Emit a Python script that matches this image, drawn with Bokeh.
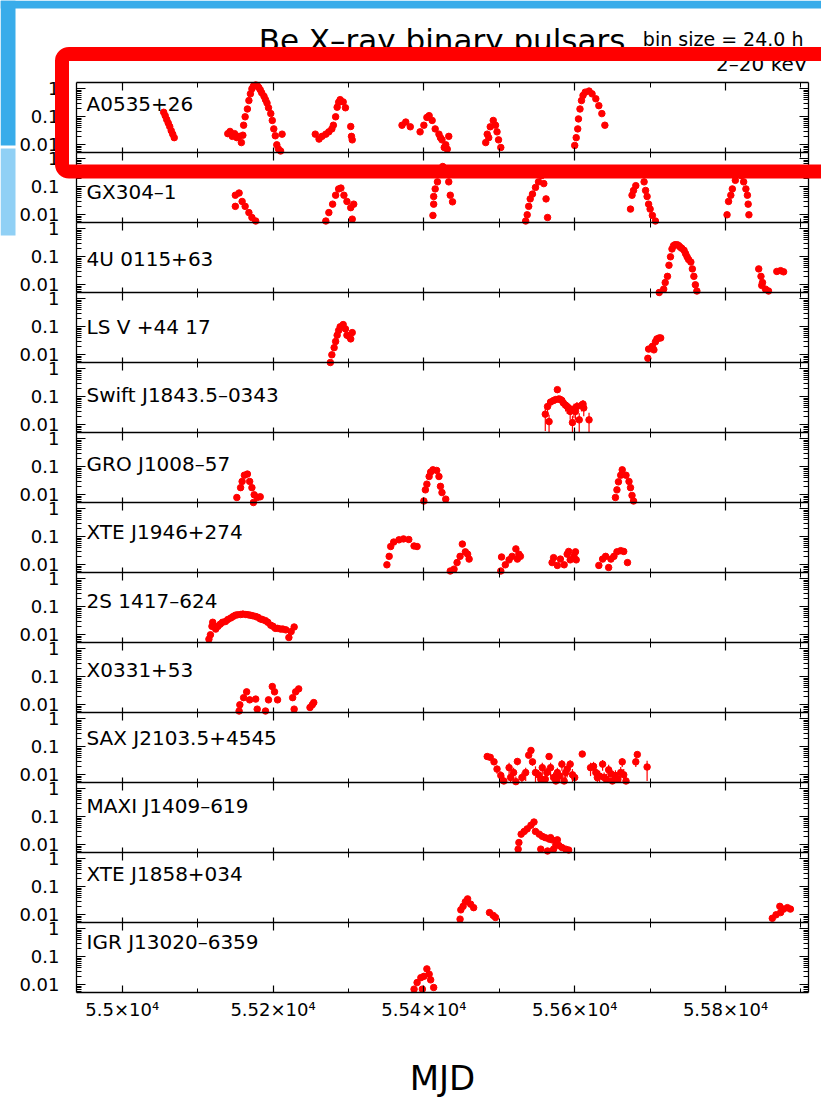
from bokeh.plotting import figure
from bokeh.models import (Range1d, LogScale, LinearScale, LogAxis, LinearAxis, FixedTicker,
                          CustomJSTickFormatter, Label, BoxAnnotation)
from bokeh.embed import file_html
from bokeh.resources import INLINE

# ---------------- data (MJD, flux) ----------------
a0535_mjd = [55055, 55057, 55059, 55061, 55063, 55065, 55067, 55069,
             55140, 55143, 55146, 55149, 55152, 55155, 55158, 55160,
             55161, 55163, 55166, 55168, 55170, 55172, 55174, 55177, 55179, 55181, 55183, 55185,
             55188, 55190, 55192, 55194, 55197, 55199, 55201, 55203, 55205, 55207, 55210, 55212,
             55256, 55261, 55265, 55270, 55274, 55278, 55280, 55283, 55285, 55287, 55289, 55293,
             55296, 55303, 55304, 55305,
             55371, 55376, 55382, 55395, 55400, 55404, 55407, 55411, 55415, 55420, 55422, 55424,
             55427, 55429, 55431, 55433,
             55482, 55484, 55486, 55488, 55492, 55495, 55497, 55499, 55502,
             55600, 55602, 55604, 55605, 55607, 55609, 55611, 55614, 55619, 55623, 55628, 55632,
             55636, 55640]
a0535_flux = [0.145, 0.11, 0.08, 0.06, 0.045, 0.032, 0.024, 0.018,
              0.025, 0.03, 0.02, 0.025, 0.018, 0.02, 0.012, 0.022,
              0.05, 0.1, 0.19, 0.38, 0.66, 1.0, 1.25, 1.37, 1.3, 1.12, 0.93, 0.72,
              0.54, 0.41, 0.31, 0.21, 0.13, 0.074, 0.037, 0.021, 0.01, 0.0072, 0.006, 0.024,
              0.024, 0.016, 0.02, 0.024, 0.029, 0.037, 0.05, 0.1, 0.22, 0.33, 0.41, 0.34,
              0.21, 0.045, 0.02, 0.015,
              0.05, 0.065, 0.044, 0.029, 0.05, 0.095, 0.11, 0.074, 0.037, 0.024, 0.018, 0.015,
              0.008, 0.01, 0.007, 0.02,
              0.012, 0.024, 0.018, 0.044, 0.074, 0.05, 0.029, 0.015, 0.008,
              0.0095, 0.018, 0.037, 0.084, 0.19, 0.38, 0.58, 0.76, 0.83, 0.66, 0.44, 0.25,
              0.13, 0.05]

gx304_mjd = [55150, 55150, 55155, 55159, 55163, 55168, 55172, 55177,
             55270, 55274, 55279, 55283, 55287, 55290, 55294, 55298, 55303, 55305, 55307,
             55412, 55413, 55413, 55415, 55418, 55421, 55425, 55429, 55433, 55435, 55438,
             55535, 55537, 55539, 55541, 55544, 55548, 55552, 55556, 55559, 55562, 55564,
             55674, 55676, 55678, 55681, 55685, 55689, 55692, 55694, 55696, 55698, 55700, 55703, 55707,
             55802, 55804, 55807, 55809, 55813, 55817, 55821, 55824, 55827, 55829, 55830, 55831]
gx304_flux = [0.05, 0.02, 0.06, 0.03, 0.02, 0.012, 0.008, 0.006,
              0.006, 0.012, 0.024, 0.05, 0.084, 0.09, 0.05, 0.03, 0.018, 0.007, 0.024,
              0.0095, 0.024, 0.045, 0.084, 0.15, 0.35, 0.53, 0.3, 0.15, 0.05, 0.029,
              0.006, 0.01, 0.02, 0.037, 0.055, 0.095, 0.15, 0.25, 0.13, 0.037, 0.008,
              0.016, 0.05, 0.074, 0.11, 0.3, 0.35, 0.15, 0.074, 0.045, 0.024, 0.016, 0.0095, 0.006,
              0.01, 0.03, 0.05, 0.084, 0.17, 0.3, 0.25, 0.15, 0.084, 0.05, 0.024, 0.01]

u0115_mjd = [55712, 55718, 55720, 55723, 55725, 55727, 55729, 55731, 55733, 55736, 55738, 55740,
             55742, 55745, 55747, 55749, 55751, 55754, 55756, 55758, 55760, 55762,
             55844, 55847, 55849, 55848, 55853, 55857, 55868, 55873, 55877]
u0115_flux = [0.0053, 0.007, 0.012, 0.02, 0.05, 0.1, 0.19, 0.25, 0.27, 0.27, 0.25, 0.22,
              0.2, 0.17, 0.13, 0.1, 0.08, 0.065, 0.037, 0.02, 0.01, 0.006,
              0.037, 0.02, 0.012, 0.0095, 0.007, 0.006, 0.03, 0.032, 0.029]

lsv_mjd = [55276, 55278, 55281, 55283, 55285, 55287, 55289, 55293, 55296, 55298, 55301, 55303, 55305,
           55697, 55698, 55703, 55705, 55707, 55709, 55712, 55714]
lsv_flux = [0.0053, 0.01, 0.018, 0.03, 0.05, 0.074, 0.1, 0.12, 0.084, 0.05, 0.045, 0.037, 0.062,
            0.0075, 0.016, 0.02, 0.015, 0.029, 0.037, 0.04, 0.04]

swift_mjd = [55561, 55564, 55566, 55568, 55572, 55575, 55577, 55579, 55581, 55583, 55585, 55588,
             55590, 55592, 55594, 55597, 55599, 55601, 55603, 55606, 55609, 55611, 55612, 55619]
swift_flux = [0.024, 0.045, 0.013, 0.065, 0.074, 0.08, 0.18, 0.084, 0.08, 0.074, 0.06, 0.05,
              0.045, 0.04, 0.03, 0.012, 0.037, 0.03, 0.045, 0.015, 0.05, 0.055, 0.04, 0.015]
swift_err = [0.018, 0.02, 0.01, 0.02, 0.015, 0.015, 0.04, 0.02, 0.02, 0.02, 0.02, 0.02,
             0.02, 0.015, 0.015, 0.009, 0.02, 0.015, 0.02, 0.011, 0.02, 0.02, 0.02, 0.012]

gro_mjd = [55152, 55157, 55159, 55162, 55166, 55169, 55172, 55174, 55175, 55179, 55183,
           55400, 55402, 55404, 55407, 55409, 55412, 55417, 55420, 55422, 55424, 55429,
           55654, 55656, 55658, 55661, 55663, 55668, 55672, 55674, 55676, 55678]
gro_flux = [0.008, 0.018, 0.03, 0.05, 0.055, 0.03, 0.018, 0.0053, 0.01, 0.008, 0.0085,
            0.006, 0.015, 0.024, 0.045, 0.065, 0.078, 0.074, 0.045, 0.02, 0.012, 0.007,
            0.008, 0.015, 0.029, 0.05, 0.078, 0.05, 0.03, 0.018, 0.0095, 0.006]

xte1946_mjd = [55351, 55354, 55356, 55360, 55367, 55373, 55380, 55387, 55391,
               55435, 55440, 55444, 55448, 55451, 55455, 55458, 55460,
               55502, 55503, 55508, 55513, 55517, 55522, 55524, 55526, 55528,
               55570, 55572, 55577, 55581, 55586, 55590, 55592, 55594, 55599, 55601, 55602,
               55632, 55637, 55641, 55645, 55648, 55652, 55656, 55661, 55665, 55670]
xte1946_flux = [0.01, 0.02, 0.045, 0.065, 0.078, 0.084, 0.08, 0.047, 0.045,
                0.006, 0.007, 0.012, 0.02, 0.055, 0.029, 0.024, 0.016,
                0.006, 0.019, 0.01, 0.015, 0.02, 0.037, 0.016, 0.024, 0.02,
                0.012, 0.018, 0.0095, 0.016, 0.01, 0.024, 0.03, 0.015, 0.02, 0.029, 0.015,
                0.0095, 0.016, 0.02, 0.008, 0.016, 0.02, 0.029, 0.032, 0.03, 0.012]

s1417_mjd = [55115, 55117, 55119, 55120, 55124, 55127, 55130, 55133, 55137, 55140, 55144, 55147,
             55150, 55153, 55157, 55160, 55164, 55167, 55170, 55173, 55177, 55180, 55183, 55186,
             55190, 55193, 55197, 55200, 55203, 55206, 55210, 55213, 55217, 55221, 55224, 55228]
s1417_flux = [0.007, 0.01, 0.02, 0.028, 0.016, 0.02, 0.024, 0.028, 0.03, 0.035, 0.04, 0.045,
              0.05, 0.052, 0.053, 0.055, 0.053, 0.052, 0.05, 0.048, 0.045, 0.042, 0.037, 0.035,
              0.032, 0.028, 0.022, 0.02, 0.017, 0.017, 0.016, 0.016, 0.015, 0.008, 0.013, 0.019]

x0331_mjd = [55155, 55156, 55161, 55165, 55169, 55177, 55179, 55190, 55194, 55199, 55202, 55206,
             55226, 55228, 55230, 55234, 55249, 55252, 55254]
x0331_flux = [0.006, 0.01, 0.018, 0.029, 0.015, 0.016, 0.007, 0.006, 0.015, 0.045, 0.029, 0.015,
              0.018, 0.007, 0.029, 0.037, 0.008, 0.01, 0.012]

sax_mjd = [55484, 55488, 55493, 55497, 55502, 55506, 55513, 55515, 55519, 55522, 55524, 55530,
           55535, 55539, 55542, 55544, 55548, 55552, 55555, 55557, 55561, 55563, 55566, 55568,
           55572, 55575, 55577, 55580, 55583, 55586, 55588, 55590, 55594, 55597, 55600, 55610,
           55621, 55625, 55628, 55630, 55633, 55637, 55639, 55642, 55645, 55648, 55650, 55654,
           55657, 55661, 55663, 55665, 55668, 55681, 55683, 55696]
sax_flux = [0.045, 0.042, 0.029, 0.016, 0.0095, 0.006, 0.018, 0.008, 0.012, 0.0057, 0.03, 0.008,
            0.012, 0.05, 0.074, 0.029, 0.012, 0.01, 0.007, 0.018, 0.007, 0.012, 0.045, 0.018,
            0.008, 0.006, 0.012, 0.009, 0.024, 0.006, 0.012, 0.016, 0.024, 0.01, 0.008, 0.055,
            0.018, 0.02, 0.012, 0.008, 0.009, 0.024, 0.008, 0.007, 0.015, 0.011, 0.006, 0.0095,
            0.007, 0.012, 0.029, 0.01, 0.006, 0.029, 0.053, 0.019]
sax_err = [0.004, 0.004, 0.005, 0.005, 0.004, 0.003, 0.009, 0.004, 0.006, 0.003, 0.008, 0.004,
           0.006, 0.008, 0.01, 0.008, 0.008, 0.005, 0.004, 0.009, 0.004, 0.006, 0.01, 0.009,
           0.004, 0.003, 0.006, 0.005, 0.01, 0.003, 0.006, 0.008, 0.009, 0.006, 0.004, 0.008,
           0.009, 0.009, 0.006, 0.004, 0.005, 0.01, 0.004, 0.004, 0.008, 0.006, 0.003, 0.005,
           0.004, 0.007, 0.01, 0.006, 0.003, 0.01, 0.01, 0.013]

maxi_mjd = [55525, 55526, 55529, 55533, 55537, 55542, 55546, 55548, 55553, 55555, 55557, 55561,
            55564, 55566, 55568, 55570, 55572, 55575, 55577, 55579, 55583, 55588, 55592]
maxi_flux = [0.007, 0.012, 0.024, 0.03, 0.037, 0.05, 0.065, 0.03, 0.024, 0.007, 0.02, 0.018,
             0.006, 0.016, 0.018, 0.015, 0.007, 0.01, 0.015, 0.0095, 0.008, 0.007, 0.0065]

xte1858_mjd = [55448, 55449, 55452, 55455, 55458, 55462, 55466, 55487, 55492, 55495,
               55862, 55867, 55872, 55873, 55877, 55882, 55886]
xte1858_flux = [0.007, 0.015, 0.02, 0.029, 0.037, 0.024, 0.018, 0.012, 0.0095, 0.008,
                0.0075, 0.01, 0.02, 0.012, 0.016, 0.018, 0.016]

igr_mjd = [55387, 55391, 55396, 55398, 55400, 55404, 55407, 55409, 55413]
igr_flux = [0.007, 0.012, 0.018, 0.007, 0.02, 0.037, 0.024, 0.015, 0.008]

source_names = ["A0535+26", "GX304–1", "4U 0115+63", "LS V +44 17", "Swift J1843.5–0343",
                "GRO J1008–57", "XTE J1946+274", "2S 1417–624", "X0331+53", "SAX J2103.5+4545",
                "MAXI J1409–619", "XTE J1858+034", "IGR J13020–6359"]
source_mjd = [a0535_mjd, gx304_mjd, u0115_mjd, lsv_mjd, swift_mjd, gro_mjd, xte1946_mjd,
              s1417_mjd, x0331_mjd, sax_mjd, maxi_mjd, xte1858_mjd, igr_mjd]
source_flux = [a0535_flux, gx304_flux, u0115_flux, lsv_flux, swift_flux, gro_flux, xte1946_flux,
               s1417_flux, x0331_flux, sax_flux, maxi_flux, xte1858_flux, igr_flux]
source_err = {4: swift_err, 9: sax_err}

x_ticks = [55000, 55200, 55400, 55600, 55800]
x_tick_labels = ["5.5×10⁴", "5.52×10⁴", "5.54×10⁴", "5.56×10⁴", "5.58×10⁴"]
x_minor = [55100, 55300, 55500, 55700, 55900]
y_ticks = [0.01, 0.1, 1]
y_minor = [0.006, 0.007, 0.008, 0.009, 0.02, 0.03, 0.04, 0.05, 0.06, 0.07, 0.08, 0.09,
           0.2, 0.3, 0.4, 0.5, 0.6, 0.7, 0.8, 0.9]

# ---------------- layout (screen pixels, origin top-left) ----------------
W, H = 821, 1097
FL, FR = 76, 808          # panel block left/right
FT = 82                   # top of first panel
PH = 70                   # panel height
NP = 13
FB = FT + NP * PH         # bottom of last panel
X0, X1 = 54939.4, 55910.0  # MJD at FL, FR
LOG_LO, LOG_HI = -2.275, 0.225
PXDEC = PH / (LOG_HI - LOG_LO)
label_y = [103, 191, 258, 326, 394, 463, 531, 600, 669, 737, 805, 873, 941]
FONT = "DejaVu Sans"
RED = "#ff0000"

mpp = (X1 - X0) / (FR - FL)
p = figure(width=W, height=H,
           x_range=Range1d(X0 - FL * mpp, X0 + (W - FL) * mpp),
           y_range=Range1d(H, 0),
           x_axis_type=None, y_axis_type=None, toolbar_location=None, output_backend="svg",
           min_border=0, min_border_left=0, min_border_right=0, min_border_top=0,
           min_border_bottom=0, outline_line_color=None,
           background_fill_color="white", border_fill_color="white")
p.grid.visible = False

p.extra_x_ranges = {"px": Range1d(0, W)}
p.extra_x_scales = {"px": LinearScale()}
yr, ys = {}, {}
for i in range(NP):
    top = FT + i * PH
    bot = top + PH
    yr[f"p{i}"] = Range1d(10 ** (LOG_LO - (H - bot) / PXDEC), 10 ** (LOG_HI + top / PXDEC))
    ys[f"p{i}"] = LogScale()
p.extra_y_ranges = yr
p.extra_y_scales = ys

# slide decorations
p.add_layout(BoxAnnotation(left=0, right=W, top=0, bottom=8, x_range_name="px",
                           fill_color="#38acea", fill_alpha=1, line_color=None, level="underlay"))
p.add_layout(BoxAnnotation(left=0, right=15, top=0, bottom=145, x_range_name="px",
                           fill_color="#38acea", fill_alpha=1, line_color=None, level="underlay"))
p.add_layout(BoxAnnotation(left=0, right=15, top=148, bottom=235, x_range_name="px",
                           fill_color="#90d0f5", fill_alpha=1, line_color=None, level="underlay"))

# data
floor = 10 ** LOG_LO
for i in range(NP):
    if i in source_err:
        err = source_err[i]
        lo = [max(f - e, floor) for f, e in zip(source_flux[i], err)]
        hi = [f + e for f, e in zip(source_flux[i], err)]
        p.segment(x0=source_mjd[i], y0=lo, x1=source_mjd[i], y1=hi, y_range_name=f"p{i}",
                  line_color=RED, line_width=1.2)
    p.scatter(source_mjd[i], source_flux[i], y_range_name=f"p{i}", size=6.5, color=RED)

# y axes per panel
yfmt = CustomJSTickFormatter(code="return tick.toString();")
ybounds = (10 ** LOG_LO, 10 ** LOG_HI)
for i in range(NP):
    la = LogAxis(y_range_name=f"p{i}", fixed_location=X0, bounds=ybounds,
                 ticker=FixedTicker(ticks=y_ticks, minor_ticks=y_minor), formatter=yfmt,
                 major_tick_in=9, major_tick_out=0, minor_tick_in=5, minor_tick_out=0,
                 major_label_standoff=17, major_label_text_font=FONT,
                 major_label_text_font_size="18px", major_label_text_color="black",
                 axis_line_color="black", axis_line_width=1.3, major_tick_line_width=1.2)
    p.add_layout(la, "left")
    ra = LogAxis(y_range_name=f"p{i}", fixed_location=X1, bounds=ybounds,
                 ticker=FixedTicker(ticks=y_ticks, minor_ticks=y_minor), formatter=yfmt,
                 major_tick_in=9, major_tick_out=0, minor_tick_in=5, minor_tick_out=0,
                 major_label_text_alpha=0, axis_line_color="black", axis_line_width=1.3,
                 major_tick_line_width=1.2)
    p.add_layout(ra, "right")

# x axes at every panel boundary
xfmt = CustomJSTickFormatter(args=dict(tv=x_ticks, tl=x_tick_labels),
                             code="const k = tv.indexOf(tick); return k < 0 ? '' : tl[k];")
xt = FixedTicker(ticks=x_ticks, minor_ticks=x_minor)
bottom = LinearAxis(fixed_location=FB, bounds=(X0, X1), ticker=xt, formatter=xfmt,
                    major_tick_in=7, major_tick_out=0, minor_tick_in=4, minor_tick_out=0,
                    major_label_standoff=6, major_label_text_font=FONT,
                    major_label_text_font_size="18px", major_label_text_color="black",
                    axis_line_color="black", axis_line_width=1.3, major_tick_line_width=1.2)
p.add_layout(bottom, "below")
for k in range(1, NP):
    ax = LinearAxis(fixed_location=FT + k * PH, bounds=(X0, X1), ticker=xt, formatter=xfmt,
                    major_tick_in=5, major_tick_out=8, minor_tick_in=4, minor_tick_out=5,
                    major_label_text_alpha=0, axis_line_color="black",
                    axis_line_width=1.3, major_tick_line_width=1.2)
    p.add_layout(ax, "below")
topax = LinearAxis(fixed_location=FT, bounds=(X0, X1), ticker=xt, formatter=xfmt,
                   major_tick_in=8, major_tick_out=0, minor_tick_in=5, minor_tick_out=0,
                   major_label_text_alpha=0, axis_line_color="black",
                   axis_line_width=1.3, major_tick_line_width=1.2)
p.add_layout(topax, "above")

# panel names
for i in range(NP):
    p.add_layout(Label(x=86, y=label_y[i], x_range_name="px", text=source_names[i],
                       text_baseline="middle", text_font=FONT, text_font_size="20px",
                       text_color="black"))

# titles
p.add_layout(Label(x=441.5, y=39, x_range_name="px", text="Be X–ray binary pulsars",
                   text_align="center", text_baseline="middle", text_font=FONT,
                   text_font_size="31px", text_color="black"))
p.add_layout(Label(x=803, y=38, x_range_name="px", text="bin size = 24.0 h",
                   text_align="right", text_baseline="middle", text_font=FONT,
                   text_font_size="19px", text_color="black"))
p.add_layout(Label(x=807, y=63, x_range_name="px", text="2–20 keV",
                   text_align="right", text_baseline="middle", text_font=FONT,
                   text_font_size="20px", text_color="black"))
p.add_layout(Label(x=442, y=1077, x_range_name="px", text="MJD",
                   text_align="center", text_baseline="middle", text_font=FONT,
                   text_font_size="34px", text_color="black"))

# red highlight rectangle
p.add_layout(BoxAnnotation(left=61.5, right=860, top=53.5, bottom=171, x_range_name="px",
                           fill_color=None, fill_alpha=0, line_color=RED, line_alpha=1,
                           line_width=14, border_radius=7))

open("out.html", "w").write(file_html(p, INLINE))
